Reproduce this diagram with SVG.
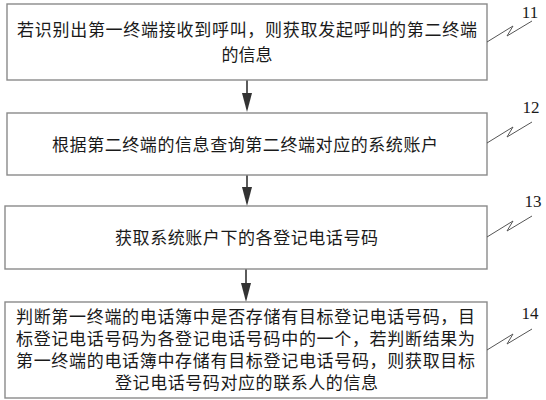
<svg xmlns="http://www.w3.org/2000/svg" width="546" height="400" viewBox="0 0 546 400">
<style>
.box{fill:#fff;stroke:#8a8a8a;stroke-width:1.4}
.t{font-family:"Liberation Serif","Noto Sans CJK SC",serif;font-size:17px;fill:#1a1a1a}
.lbl{font-family:"Liberation Serif","Noto Sans CJK SC",serif;font-size:17px;fill:#1a1a1a;text-anchor:middle}
.lead{fill:none;stroke:#555;stroke-width:1}
.arr{stroke:#333;stroke-width:1.6;fill:none}
</style>
<defs>
<marker id="ah" markerUnits="userSpaceOnUse" markerWidth="12" markerHeight="20" refX="5" refY="19" orient="auto-start-reverse" viewBox="0 0 10 20">
<path d="M0,0 L10,0 L5,19 Z" fill="#333"/>
</marker>
</defs>
<rect width="546" height="400" fill="#fff"/>
<g id="connectors">
<line class="arr" x1="247" y1="80" x2="247" y2="93"/>
<path d="M242,93 L252,93 L247,112 Z" fill="#333"/>
<line class="arr" x1="247" y1="175" x2="247" y2="187"/>
<path d="M242,187 L252,187 L247,206 Z" fill="#333"/>
<line class="arr" x1="246" y1="269" x2="246" y2="283"/>
<path d="M241,283 L251,283 L246,302 Z" fill="#333"/>
</g>
<g id="node11">
<rect class="box" x="7" y="4" width="480" height="76"/>
<text class="t" x="17" y="36" textLength="460" lengthAdjust="spacing">若识别出第一终端接收到呼叫，则获取发起呼叫的第二终端</text>
<text class="t" x="247" y="61" text-anchor="middle">的信息</text>
<path class="lead" d="M487,42 L513,26 L507,36 L532,21"/>
<text class="lbl" x="530" y="18">11</text>
</g>
<g id="node12">
<rect class="box" x="7" y="113" width="480" height="62"/>
<text class="t" x="52" y="151" textLength="386" lengthAdjust="spacing">根据第二终端的信息查询第二终端对应的系统账户</text>
<path class="lead" d="M487,143 L513,127 L507,137 L532,122"/>
<text class="lbl" x="531" y="113">12</text>
</g>
<g id="node13">
<rect class="box" x="5" y="206" width="482" height="63"/>
<text class="t" x="115" y="244" textLength="263" lengthAdjust="spacing">获取系统账户下的各登记电话号码</text>
<path class="lead" d="M487,237 L513,221 L507,231 L532,216"/>
<text class="lbl" x="533" y="207">13</text>
</g>
<g id="node14">
<rect class="box" x="5" y="302" width="482" height="96"/>
<text class="t" x="16" y="323" textLength="459" lengthAdjust="spacing">判断第一终端的电话簿中是否存储有目标登记电话号码，目</text>
<text class="t" x="16" y="345" textLength="459" lengthAdjust="spacing">标登记电话号码为各登记电话号码中的一个，若判断结果为</text>
<text class="t" x="16" y="367" textLength="459" lengthAdjust="spacing">第一终端的电话簿中存储有目标登记电话号码，则获取目标</text>
<text class="t" x="115" y="389" textLength="263" lengthAdjust="spacing">登记电话号码对应的联系人的信息</text>
<path class="lead" d="M487,350 L513,334 L507,344 L532,329"/>
<text class="lbl" x="530" y="319">14</text>
</g>
</svg>
